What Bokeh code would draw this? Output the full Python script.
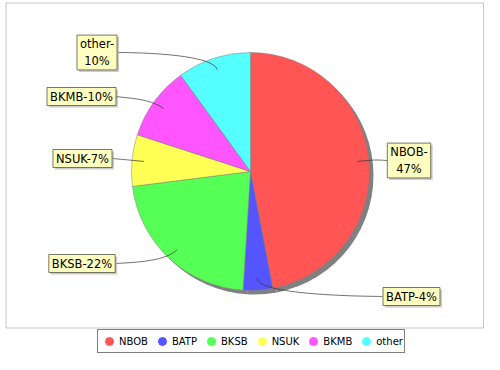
import math
from bokeh.plotting import figure
from bokeh.models import Range1d, Legend, LegendItem, ColumnDataSource, BoxAnnotation
from bokeh.core.properties import value
from bokeh.embed import file_html
from bokeh.resources import INLINE

# ---- data ----
categories = ["NBOB", "BATP", "BKSB", "NSUK", "BKMB", "other"]
values = [47, 4, 22, 7, 10, 10]
colors = ["#FF5555", "#5555FF", "#55FF55", "#FFFF55", "#FF55FF", "#55FFFF"]
wrap_label = [True, False, False, False, False, True]

# ---- layout (pixels relative to pie centre, y up) ----
label_dx = [158.5, 161, -168.5, -168, -169, -153.5]
label_dy = [11, -125, -92, 13, 75, 119]
edge_dx = [137, 132, -134, -138, -135, -132]

W, H = 484, 354
cx, cy = 250, H - 171
R = 119
RL = 125
LINK = 0.9

total = sum(values)
starts, ends, mids = [], [], []
acc = 0.0
for v in values:
    f0 = acc / total
    acc += v
    f1 = acc / total
    starts.append(math.pi / 2 - 2 * math.pi * f0)
    ends.append(math.pi / 2 - 2 * math.pi * f1)
    mids.append(math.pi / 2 - 2 * math.pi * (f0 + f1) / 2)

pcts = [round(100 * v / total) for v in values]
labels = [f"{c}-\n{p}%" if w else f"{c}-{p}%" for c, p, w in zip(categories, pcts, wrap_label)]

p = figure(width=W, height=H, output_backend="svg", toolbar_location=None,
           x_range=Range1d(0, W), y_range=Range1d(0, H),
           x_axis_type=None, y_axis_type=None, min_border=0)
p.outline_line_color = None
p.background_fill_color = "white"
p.border_fill_color = "white"

# plot-area border
p.add_layout(BoxAnnotation(left=5.5, right=483, top=H - 2.5, bottom=H - 327.5,
                           fill_color=None, line_color="#444444", line_width=1))

src = ColumnDataSource(dict(start=starts, end=ends, color=colors))

# shadow
p.wedge(x=cx + 4, y=cy - 4, radius=R, start_angle="end", end_angle="start", direction="anticlock",
        source=src, fill_color="#808080", line_color=None)
# slices
p.wedge(x=cx, y=cy, radius=R, start_angle="end", end_angle="start", direction="anticlock",
        source=src, fill_color="color", line_color="#808080", line_width=0.5)

# leader curves
x0, y0, x1, y1, c0x, c0y, c1x, c1y = [], [], [], [], [], [], [], []
for i, th in enumerate(mids):
    right = math.cos(th) > 0
    ty = cy + label_dy[i]
    tx = cx + edge_dx[i]
    ax = cx + RL if right else cx - RL
    ex = cx + RL * math.cos(th)
    ey = cy + RL * math.sin(th)
    lx = cx + LINK * R * math.cos(th)
    ly = cy + LINK * R * math.sin(th)
    x0.append(tx); y0.append(ty)
    c0x.append(ax); c0y.append(ey)
    c1x.append(ex); c1y.append(ey)
    x1.append(lx); y1.append(ly)
p.bezier(x0=x0, y0=y0, x1=x1, y1=y1, cx0=c0x, cy0=c0y, cx1=c1x, cy1=c1y,
         line_color="#333333", line_width=0.7)

lsrc = ColumnDataSource(dict(x=[cx + d for d in label_dx], y=[cy + d for d in label_dy], t=labels))
# label shadows
p.text(x="x", y="y", text="t", source=lsrc, x_offset=2, y_offset=2,
       text_align="center", text_baseline="middle", text_font=value("DejaVu Sans"),
       text_font_size="11.5px", text_alpha=0, padding=(3, 2),
       background_fill_color="#979797", background_fill_alpha=0.5)
p.text(x="x", y="y", text="t", source=lsrc,
       text_align="center", text_baseline="middle", text_font=value("DejaVu Sans"),
       text_font_size="11.5px", text_color="black", padding=(3, 2),
       background_fill_color="#FFFFC0", border_line_color="#555540", border_line_width=0.8)

# legend (proxy markers with no drawable position)
nan = float("nan")
msrc = ColumnDataSource(dict(x=[nan] * len(categories), y=[nan] * len(categories), color=colors))
mr = p.scatter(x="x", y="y", source=msrc, marker="circle", size=8,
               fill_color="color", line_color="color")
items = [LegendItem(label=c, renderers=[mr], index=i) for i, c in enumerate(categories)]
legend = Legend(items=items, orientation="horizontal", location=(97, 1),
                glyph_width=20, glyph_height=20, label_standoff=0, spacing=4,
                padding=1, margin=0, label_height=12,
                label_text_font="DejaVu Sans", label_text_font_size="10px",
                label_text_color="black",
                border_line_color="black", border_line_width=1,
                background_fill_color="white")
p.add_layout(legend)

open("out.html", "w").write(file_html(p, INLINE))
